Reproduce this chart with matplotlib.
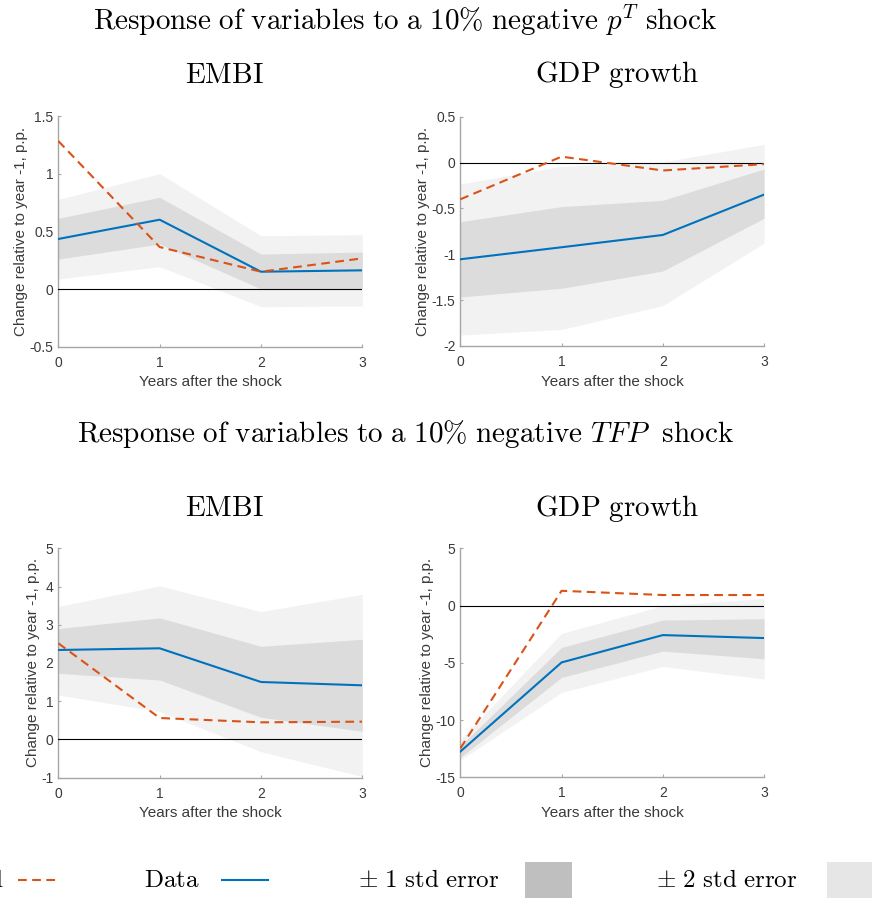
import matplotlib
matplotlib.use("Agg")
import matplotlib.pyplot as plt
from matplotlib.lines import Line2D
from matplotlib.patches import Rectangle

plt.rcParams["mathtext.fontset"] = "cm"
plt.rcParams["axes.unicode_minus"] = False
plt.rcParams["font.family"] = ["Liberation Sans", "DejaVu Sans"]

# ---- data -------------------------------------------------------------
years = [0, 1, 2, 3]

# p^T shock
pt_embi_model = [1.283, 0.364, 0.150, 0.266]
pt_embi_data = [0.434, 0.601, 0.150, 0.162]
pt_embi_lo1 = [0.260, 0.390, 0.000, 0.005]
pt_embi_hi1 = [0.613, 0.795, 0.303, 0.320]
pt_embi_lo2 = [0.087, 0.194, -0.153, -0.147]
pt_embi_hi2 = [0.777, 1.000, 0.462, 0.471]

pt_gdp_model = [-0.401, 0.064, -0.087, -0.018]
pt_gdp_data = [-1.055, -0.924, -0.790, -0.350]
pt_gdp_lo1 = [-1.466, -1.371, -1.183, -0.608]
pt_gdp_hi1 = [-0.645, -0.481, -0.412, -0.071]
pt_gdp_lo2 = [-1.881, -1.820, -1.560, -0.880]
pt_gdp_hi2 = [-0.234, -0.041, 0.005, 0.198]

# TFP shock
tfp_embi_model = [2.515, 0.561, 0.448, 0.465]
tfp_embi_data = [2.340, 2.384, 1.503, 1.416]
tfp_embi_lo1 = [1.730, 1.555, 0.580, 0.212]
tfp_embi_hi1 = [2.900, 3.180, 2.436, 2.620]
tfp_embi_lo2 = [1.163, 0.727, -0.320, -0.970]
tfp_embi_hi2 = [3.480, 4.015, 3.343, 3.797]

tfp_gdp_model = [-12.47, 1.30, 0.93, 0.93]
tfp_gdp_data = [-12.75, -4.96, -2.57, -2.83]
tfp_gdp_lo1 = [-13.26, -6.27, -3.97, -4.64]
tfp_gdp_hi1 = [-12.26, -3.65, -1.26, -1.14]
tfp_gdp_lo2 = [-13.50, -7.58, -5.31, -6.41]
tfp_gdp_hi2 = [-11.70, -2.42, 0.00, 0.63]

x_ticks = [0, 1, 2, 3]
y_ticks_pt_embi = [-0.5, 0, 0.5, 1, 1.5]
y_ticks_pt_gdp = [-2, -1.5, -1, -0.5, 0, 0.5]
y_ticks_tfp_embi = [-1, 0, 1, 2, 3, 4, 5]
y_ticks_tfp_gdp = [-15, -10, -5, 0, 5]

BLUE = "#0072BD"
RED = "#D95319"
BAND1 = "#dcdcdc"
BAND2 = "#f2f2f2"
AXCOL = "#a6a6a6"
TXTCOL = "#3a3a3a"


def fmt(v):
    return "%g" % v


def panel(ax, model, data, lo1, hi1, lo2, hi2, yticks):
    ax.fill_between(years, lo2, hi2, color=BAND2, lw=0, zorder=1)
    ax.fill_between(years, lo1, hi1, color=BAND1, lw=0, zorder=2)
    ax.plot([years[0], years[-1]], [0, 0], color="black", lw=0.8, zorder=3)
    ax.plot(years, data, color=BLUE, lw=1.5, zorder=4)
    ax.plot(years, model, color=RED, lw=1.5, ls=(0, (4.2, 2.6)), zorder=5)
    ax.set_xlim(years[0], years[-1])
    ax.set_ylim(yticks[0], yticks[-1])
    ax.set_xticks(x_ticks)
    ax.set_xticklabels([fmt(t) for t in x_ticks])
    ax.set_yticks(yticks)
    ax.set_yticklabels([fmt(t) for t in yticks])
    for s in ("top", "right"):
        ax.spines[s].set_visible(False)
    for s in ("left", "bottom"):
        ax.spines[s].set_color(AXCOL)
        ax.spines[s].set_linewidth(1.0)
    ax.tick_params(direction="in", length=2.5, width=0.8, color=AXCOL,
                   labelsize=10, labelcolor=TXTCOL)
    ax.tick_params(axis="x", pad=6.5)
    ax.tick_params(axis="y", pad=3.5)
    ax.set_xlabel("Years after the shock", fontsize=11, color=TXTCOL, labelpad=4)
    ax.set_ylabel("Change relative to year -1, p.p.", fontsize=11,
                  color=TXTCOL, labelpad=1)
    ax.patch.set_alpha(0)


fig = plt.figure(figsize=(8.72, 9.0), dpi=100)

ax1 = fig.add_axes([0.0669, 0.6148, 0.3486, 0.2563])
ax2 = fig.add_axes([0.5279, 0.6156, 0.3483, 0.2548])
ax3 = fig.add_axes([0.0669, 0.1359, 0.3486, 0.2549])
ax4 = fig.add_axes([0.5279, 0.1363, 0.3483, 0.2543])

panel(ax1, pt_embi_model, pt_embi_data, pt_embi_lo1, pt_embi_hi1,
      pt_embi_lo2, pt_embi_hi2, y_ticks_pt_embi)
panel(ax2, pt_gdp_model, pt_gdp_data, pt_gdp_lo1, pt_gdp_hi1,
      pt_gdp_lo2, pt_gdp_hi2, y_ticks_pt_gdp)
panel(ax3, tfp_embi_model, tfp_embi_data, tfp_embi_lo1, tfp_embi_hi1,
      tfp_embi_lo2, tfp_embi_hi2, y_ticks_tfp_embi)
panel(ax4, tfp_gdp_model, tfp_gdp_data, tfp_gdp_lo1, tfp_gdp_hi1,
      tfp_gdp_lo2, tfp_gdp_hi2, y_ticks_tfp_gdp)

# ---- titles -----------------------------------------------------------
TS = 21
fig.text(0.465, 1 - 20 / 900,
         r"$\mathrm{Response\ of\ variables\ to\ a\ 10\%\ negative\ }p^T\mathrm{\ shock}$",
         ha="center", va="center", fontsize=TS)
fig.text(0.257, 1 - 75 / 900, r"$\mathrm{EMBI}$", ha="center", va="center", fontsize=TS)
fig.text(0.708, 1 - 75 / 900, r"$\mathrm{GDP\ growth}$", ha="center", va="center", fontsize=TS)
fig.text(0.465, 1 - 434 / 900,
         r"$\mathrm{Response\ of\ variables\ to\ a\ 10\%\ negative\ }TFP\mathrm{\ \ shock}$",
         ha="center", va="center", fontsize=TS)
fig.text(0.257, 1 - 508 / 900, r"$\mathrm{EMBI}$", ha="center", va="center", fontsize=TS)
fig.text(0.708, 1 - 508 / 900, r"$\mathrm{GDP\ growth}$", ha="center", va="center", fontsize=TS)

# ---- legend row -------------------------------------------------------
ly = 1 - 880 / 900
LS = 18
fig.text(4 / 872, ly, r"$\mathrm{Model}$", ha="right", va="center", fontsize=LS)
fig.add_artist(Line2D([18 / 872, 60 / 872], [ly, ly], color=RED, lw=1.5,
                      ls=(0, (4.2, 2.6)), transform=fig.transFigure))
fig.text(200 / 872, ly, r"$\mathrm{Data}$", ha="right", va="center", fontsize=LS)
fig.add_artist(Line2D([222 / 872, 268 / 872], [ly, ly], color=BLUE, lw=1.5,
                      transform=fig.transFigure))
fig.text(500 / 872, ly, r"$\pm\ 1\ \mathrm{std\ error}$", ha="right", va="center", fontsize=LS)
fig.add_artist(Rectangle((525 / 872, 1 - 898 / 900), 47 / 872, 36 / 900,
                         facecolor="#bfbfbf", edgecolor="none",
                         transform=fig.transFigure))
fig.text(798 / 872, ly, r"$\pm\ 2\ \mathrm{std\ error}$", ha="right", va="center", fontsize=LS)
fig.add_artist(Rectangle((827 / 872, 1 - 898 / 900), 47 / 872, 36 / 900,
                         facecolor="#e6e6e6", edgecolor="none",
                         transform=fig.transFigure))

fig.savefig("out.png", dpi=100)
